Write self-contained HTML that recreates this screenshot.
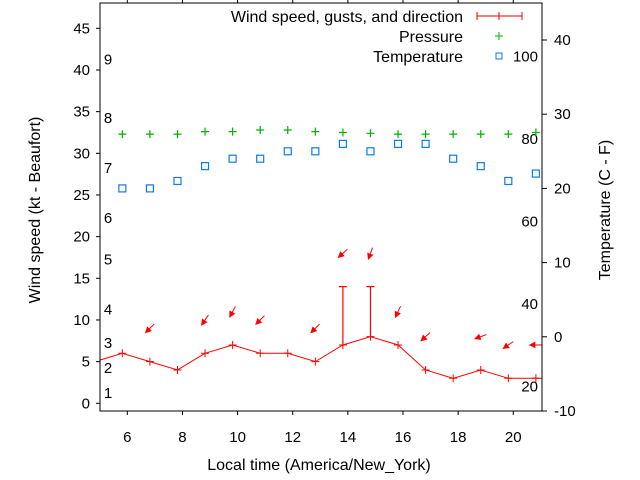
<!DOCTYPE html>
<html><head><meta charset="utf-8"><style>
html,body{margin:0;padding:0;background:#fff;}
svg{display:block;font-family:"Liberation Sans",sans-serif;}
</style></head><body>
<svg id="chart" width="640" height="480" viewBox="0 0 640 480" xmlns="http://www.w3.org/2000/svg">
<rect x="0" y="0" width="640" height="480" fill="#fff"/>
<g id="axes"></g>
<g id="marks"></g>
<rect x="100" y="3" width="442" height="408" fill="none" stroke="#000" stroke-width="1"/>
<text x="0" y="0" transform="translate(40,210) rotate(-90)" text-anchor="middle" font-size="16" fill="#000">Wind speed (kt - Beaufort)</text>
<text x="0" y="0" transform="translate(610,210) rotate(-90)" text-anchor="middle" font-size="16" fill="#000">Temperature (C - F)</text>
<text x="319" y="470" text-anchor="middle" font-size="16" fill="#000">Local time (America/New_York)</text>
<g>
<text x="463" y="22" text-anchor="end" font-size="16">Wind speed, gusts, and direction</text>
<path d="M477 16H522M477 12V20M499 12V20M522 12V20" stroke="#e00" stroke-width="1"/>
<text x="463" y="42" text-anchor="end" font-size="16">Pressure</text>
<path d="M495 36H503M499 32V40" stroke="#00b000" stroke-width="1"/>
<text x="463" y="62" text-anchor="end" font-size="16">Temperature</text>
<rect x="496" y="53" width="6" height="6" fill="none" stroke="#0a7cf0"/>
</g>
</svg>
<script>
const hours=[4.82,5.82,6.82,7.82,8.82,9.82,10.82,11.82,12.82,13.82,14.82,15.82,16.82,17.82,18.82,19.82,20.82];
const windSpeed=[5,6,5,4,6,7,6,6,5,7,8,7,4,3,4,3,3];
const windGust=[null,null,null,null,null,null,null,null,null,14,14,null,null,null,null,null,null];
const windDir=[null,null,45,null,34,28,45,null,45,48,20,25,47,null,70,56,90];
const pressure=[null,32.3,32.3,32.3,32.6,32.6,32.8,32.8,32.6,32.5,32.4,32.3,32.3,32.3,32.3,32.3,32.5];
const tempC=[null,20,20,21,23,24,24,25,25,26,25,26,26,24,23,21,22];
const xTicks=[6,8,10,12,14,16,18,20];
const yTicks=[0,5,10,15,20,25,30,35,40,45];
const y2Ticks=[-10,0,10,20,30,40];
const fTicks=[20,40,60,80,100];
const beaufort=[1,4,7,11,17,22,28,34,41];

const NS='http://www.w3.org/2000/svg';
const xs=h=>127.3+(h-6)*27.57;
const ysL=v=>403.3-v*8.333;
const ysR=c=>411-(c+10)*7.42;
function mk(tag,attrs,parent,txt){const e=document.createElementNS(NS,tag);for(const k in attrs)e.setAttribute(k,attrs[k]);if(txt!==undefined)e.textContent=txt;parent.appendChild(e);return e;}
const axes=document.getElementById('axes');
const marks=document.getElementById('marks');

xTicks.forEach(t=>{const x=xs(t);
 let l=mk('path',{d:`M${x} 411V415M${x} 3V-1`,stroke:'#000'},axes);
 
 
 let tx=mk('text',{x:x,y:442,'text-anchor':'middle','font-size':'15'},axes,String(t));
 
 
});
yTicks.forEach(t=>{const y=ysL(t);
 let l=mk('path',{d:`M96 ${y}H100`,stroke:'#000'},axes);
 
 
 let tx=mk('text',{x:90,y:y+5,'text-anchor':'end','font-size':'15'},axes,String(t));
 
 
});
y2Ticks.forEach(t=>{const y=ysR(t);
 let l=mk('path',{d:`M542 ${y}H547`,stroke:'#000'},axes);
 
 
 let tx=mk('text',{x:554,y:y+5,'text-anchor':'start','font-size':'15'},axes,String(t));
 
 
});
fTicks.forEach(f=>{const c=(f-32)*5/9;const y=ysR(c);
 let tx=mk('text',{x:538,y:y+5,'text-anchor':'end','font-size':'15'},axes,String(f));
 
 
});
beaufort.forEach((b,i)=>{
 let tx=mk('text',{x:108,y:ysL(b)+3,'text-anchor':'middle','font-size':'15'},axes,String(i+1));
 
 
});

const defs=mk('defs',{},marks);
const cp=mk('clipPath',{id:'pc'},defs);
mk('rect',{x:100,y:3,width:442,height:408},cp);
const g=mk('g',{'clip-path':'url(#pc)'},marks);



tempC.forEach((c,i)=>{if(c==null)return;
 let r=mk('rect',{x:xs(hours[i])-3.5,y:ysR(c)-3.5,width:7,height:7,fill:'none',stroke:'#0a7cf0','stroke-width':1.2},g);
 
 
});
pressure.forEach((p,i)=>{if(p==null)return;const x=xs(hours[i]),y=ysL(p);
 let l=mk('path',{d:`M${x-4} ${y}H${x+4}M${x} ${y-4}V${y+4}`,stroke:'#00b000','stroke-width':1.2},g);
 
 
});
let d=windSpeed.map((s,i)=>(i?'L':'M')+xs(hours[i])+' '+ysL(s)).join('')+`L560 ${ysL(windSpeed[windSpeed.length-1])}`;
let wl=mk('path',{d:d,fill:'none',stroke:'#f00','stroke-width':1},g);


windSpeed.forEach((s,i)=>{const x=xs(hours[i]),y=ysL(s);
 let p=mk('path',{d:`M${x-4} ${y}H${x+4}M${x} ${y-4}V${y+4}`,stroke:'#f00','stroke-width':1},g);
 
 
 if(windGust[i]!=null){const yg=ysL(windGust[i]);
  let e=mk('path',{d:`M${x} ${y}V${yg}M${x-4} ${yg}H${x+4}`,stroke:'#f00','stroke-width':1.2},g);
  
  
 }
 if(windDir[i]!=null){const top=Math.max(s,windGust[i]||0)+4;const cy=ysL(top);
  const a=windDir[i]*Math.PI/180;const dx=-Math.sin(a),dy=Math.cos(a);const L=6;
  const x1=x-dx*L,y1=cy-dy*L,x2=x+dx*L,y2=cy+dy*L;
  const px=-dy,py=dx;const hl=5,hw=2.5;
  const bx=x2-dx*hl,by=y2-dy*hl;
  let ar=mk('path',{d:`M${x1} ${y1}L${bx} ${by}M${x2} ${y2}L${bx+px*hw} ${by+py*hw}L${bx-px*hw} ${by-py*hw}Z`,stroke:'#f00',fill:'#f00','stroke-width':1},g);
  
  
 }
});
</script>
</body></html>
